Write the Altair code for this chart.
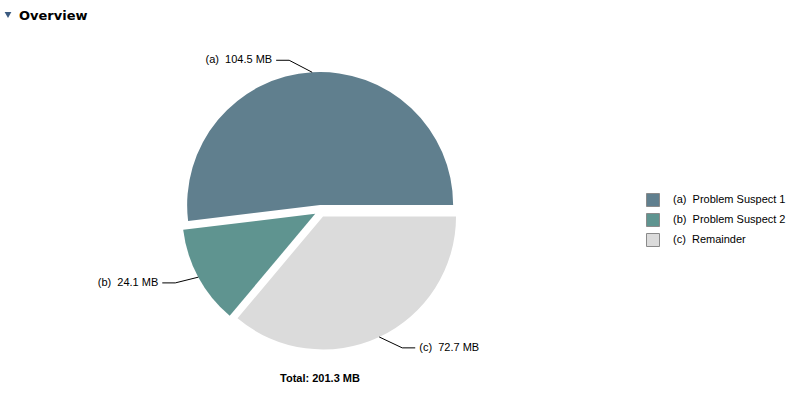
import math
import altair as alt
import pandas as pd

# ---- data ----
keys = ["a", "b", "c"]
names = ["Problem Suspect 1", "Problem Suspect 2", "Remainder"]
sizes_mb = [104.5, 24.1, 72.7]
colors = ["#607f8e", "#5f9490", "#dbdbdb"]
title_text = "Overview"
total_text = "Total: 201.3 MB"

# ---- layout ----
W, H = 802, 394
CX, CY = 320.5, 211.0   # pie centre (px)
R = 133                 # radius
EXPLODE = 6             # explode distance
total = sum(sizes_mb)

rows, lines = [], []
cum = 0.0
for k, n, v in zip(keys, names, sizes_mb):
    start, end = cum, cum + v
    cum = end
    # vega angle: 0 = 12 o'clock, clockwise; slices run counter-clockwise from 3 o'clock
    mid = math.pi / 2 - 2 * math.pi * (start + v / 2) / total
    dx, dy = math.sin(mid), -math.cos(mid)
    cx, cy = CX + EXPLODE * dx, CY + EXPLODE * dy
    ax, ay = cx + R * dx, cy + R * dy
    sgn = 1 if dx >= 0 else -1
    ex, ey = ax + sgn * 23, ay + dy * 12
    hx = ex + sgn * 13
    legend_label = f"({k})\u00a0 {n}"
    rows.append(dict(key=k, legend=legend_label, size=v, start=start, end=end,
                     cx=cx, cy=cy, tx=hx + sgn * 4, ty=ey,
                     label=f"({k})\u00a0 {v:.1f} MB",
                     align="left" if sgn > 0 else "right"))
    for i, (px, py) in enumerate([(ax, ay), (ex, ey), (hx, ey)]):
        lines.append(dict(key=k, order=i, x=px, y=py))

df = pd.DataFrame(rows)
ldf = pd.DataFrame(lines)
legend_domain = list(df["legend"])

xs = alt.Scale(domain=[0, W], range=[0, W])
ys = alt.Scale(domain=[0, H], range=[0, H])

pie = alt.Chart(df).mark_arc(outerRadius=R, stroke=None).encode(
    theta=alt.Theta("start:Q", scale=alt.Scale(domain=[0, total],
                                               range=[math.pi / 2, math.pi / 2 - 2 * math.pi])),
    theta2="end:Q",
    x=alt.X("cx:Q", scale=xs, axis=None),
    y=alt.Y("cy:Q", scale=ys, axis=None),
    color=alt.Color("legend:N",
                    scale=alt.Scale(domain=legend_domain, range=colors),
                    legend=alt.Legend(title=None, orient="none", legendX=646, legendY=193,
                                      symbolType="square", symbolSize=169,
                                      symbolStrokeColor="#8a8a8a", symbolStrokeWidth=1,
                                      symbolOpacity=1,
                                      labelFont="Liberation Sans", labelFontSize=11,
                                      labelColor="#000000", labelOffset=13,
                                      rowPadding=2, padding=0)),
)

leader = alt.Chart(ldf).mark_line(color="#000000", strokeWidth=1).encode(
    x=alt.X("x:Q", scale=xs, axis=None),
    y=alt.Y("y:Q", scale=ys, axis=None),
    detail="key:N",
    order="order:Q",
)

lab_left = alt.Chart(df[df["align"] == "right"]).mark_text(
    align="right", baseline="middle", font="Liberation Sans", fontSize=11, color="#000000"
).encode(x=alt.X("tx:Q", scale=xs, axis=None), y=alt.Y("ty:Q", scale=ys, axis=None), text="label:N")

lab_right = alt.Chart(df[df["align"] == "left"]).mark_text(
    align="left", baseline="middle", font="Liberation Sans", fontSize=11, color="#000000"
).encode(x=alt.X("tx:Q", scale=xs, axis=None), y=alt.Y("ty:Q", scale=ys, axis=None), text="label:N")

meta = pd.DataFrame({"t": [title_text], "total": [total_text]})

title = alt.Chart(meta).mark_text(
    align="left", baseline="alphabetic", font="DejaVu Sans", fontSize=13, fontWeight="bold",
    color="#000000"
).encode(x=alt.value(19), y=alt.value(20), text="t:N")

tri = alt.Chart(meta).mark_point(
    shape="triangle-down", filled=True, color="#3b5a80", size=45, opacity=1
).encode(x=alt.value(8), y=alt.value(15))

tot = alt.Chart(meta).mark_text(
    align="center", baseline="alphabetic", font="Liberation Sans", fontSize=11, fontWeight="bold",
    color="#000000"
).encode(x=alt.value(320), y=alt.value(382), text="total:N")

chart = alt.layer(pie, leader, lab_left, lab_right, title, tri, tot).properties(
    width=W, height=H, padding=0, autosize=alt.AutoSizeParams(type="none"),
    background="#ffffff"
).configure_view(stroke=None)

chart.save("out.html", embed_options={"renderer": "svg", "actions": False})
